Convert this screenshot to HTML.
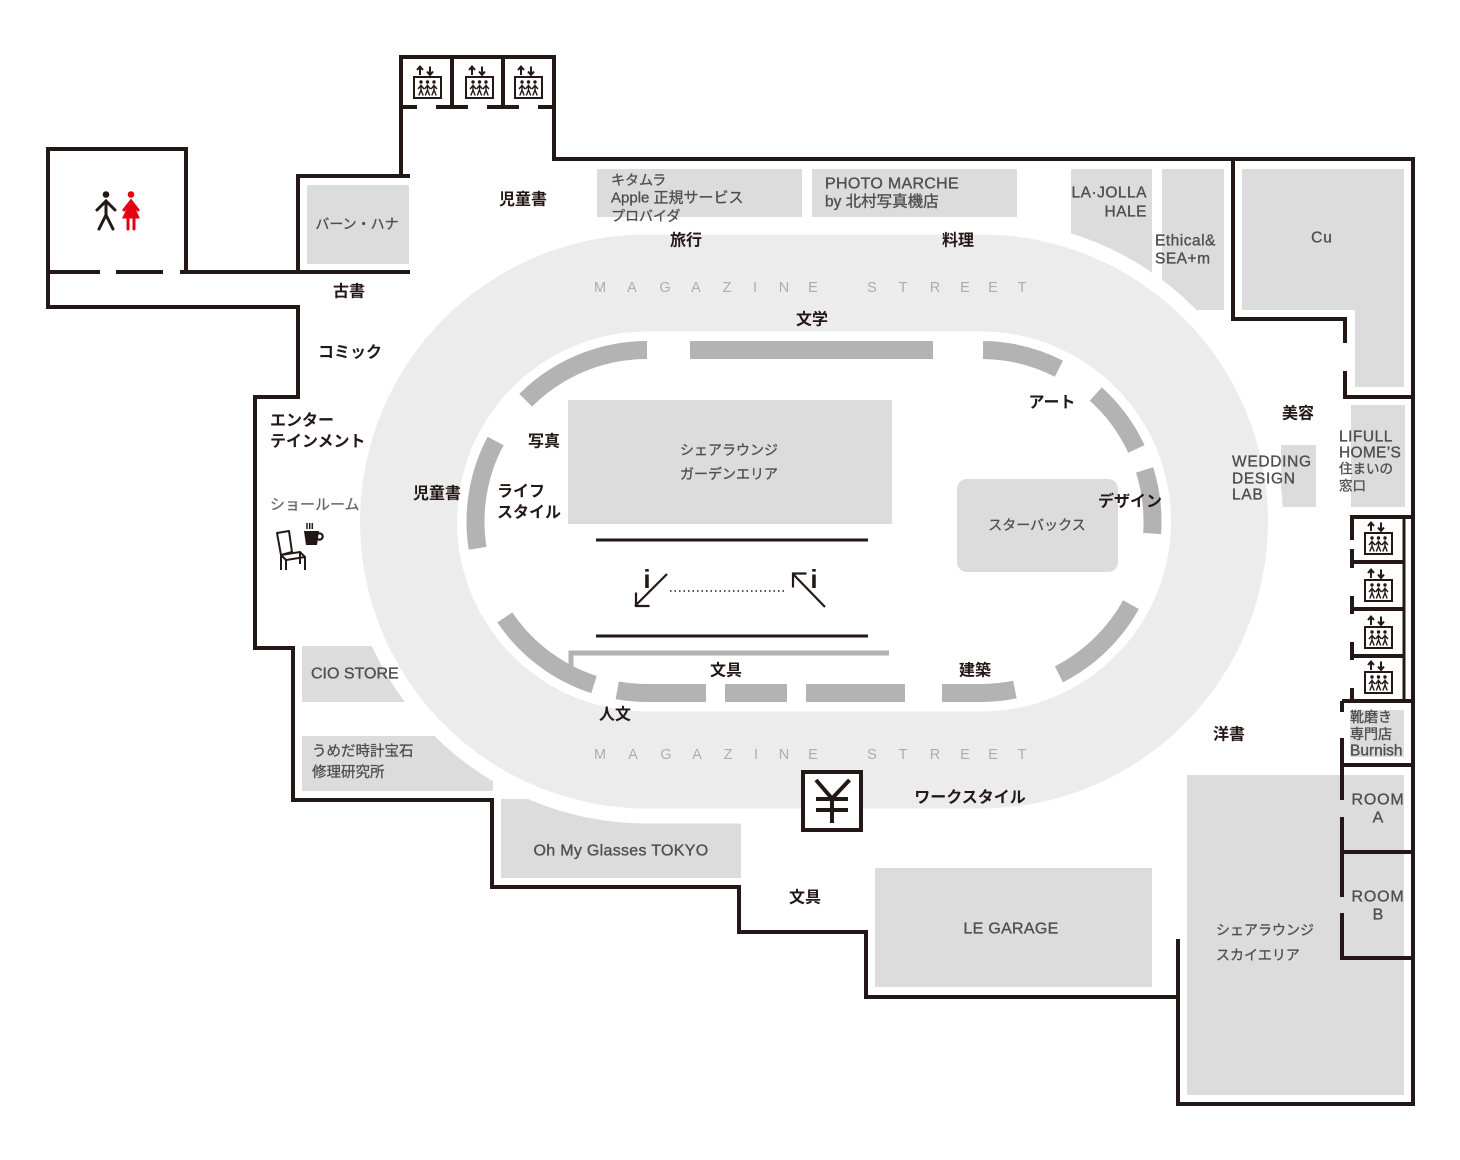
<!DOCTYPE html>
<html><head><meta charset="utf-8">
<style>
html,body{margin:0;padding:0;background:#fff;}
svg{display:block;}
text{font-family:"Liberation Sans","Noto Sans CJK JP",sans-serif;}
.lb{font-size:16px;font-weight:bold;fill:#231815;}
.st{font-size:14px;fill:#4f4f4f;stroke:#4f4f4f;stroke-width:0.3;}
.se{font-size:15.5px;fill:#4f4f4f;stroke:#4f4f4f;stroke-width:0.35;}
.ms{font-size:14.5px;fill:#adadad;}
</style></head><body>
<svg width="1460" height="1160" viewBox="0 0 1460 1160" xmlns="http://www.w3.org/2000/svg">
<defs>
<g id="ev">
 <rect x="0" y="0" width="27" height="21" fill="#fff" stroke="#231815" stroke-width="2"/>
 <g stroke="#231815" stroke-width="1.4" fill="none">
  <path d="M7 7.5V13M4 12L7 8.5L10 12M7 13L4.8 18.5M7 13L9.2 18.5"/>
  <path d="M13.5 7.5V13M10.5 12L13.5 8.5L16.5 12M13.5 13L11.3 18.5M13.5 13L15.7 18.5"/>
  <path d="M20 7.5V13M17 12L20 8.5L23 12M20 13L17.8 18.5M20 13L22.2 18.5"/>
 </g>
 <g fill="#231815"><circle cx="7" cy="5" r="1.7"/><circle cx="13.5" cy="5" r="1.7"/><circle cx="20" cy="5" r="1.7"/></g>
 <g stroke="#231815" stroke-width="2" fill="none">
  <path d="M6 -2V-10M3 -7L6 -10.5L9 -7"/>
  <path d="M16 -10.5V-2.5M13 -5.5L16 -2L19 -5.5"/>
 </g>
</g>
</defs>

<!-- stores (drawn before oval so oval cuts them) -->
<g fill="#dcdcdc">
 <rect x="307" y="185" width="102" height="79"/>
 <rect x="597" y="169" width="205" height="48"/>
 <rect x="812" y="169" width="205" height="48"/>
 <rect x="1071" y="169" width="81" height="140"/>
 <rect x="1162" y="169" width="62" height="141"/>
 <polygon points="1242,169 1404,169 1404,387 1355,387 1355,310 1242,310"/>
 <rect x="1281" y="445" width="35" height="62"/>
 <rect x="1351" y="405" width="54" height="102"/>
 <rect x="302" y="646" width="104" height="56"/>
 <rect x="302" y="736" width="191" height="55"/>
 <rect x="501" y="799" width="240" height="79"/>
 <rect x="875" y="868" width="277" height="119"/>
 <rect x="1187" y="775" width="217" height="320"/>
 <rect x="1350" y="710" width="54" height="47"/>
</g>

<!-- oval -->
<path d="M647 219.5H981A302 302 0 0 1 981 823.5H647A302 302 0 0 1 647 219.5Z" fill="#fff"/>
<path d="M647 234.5H981A287 287 0 0 1 981 808.5H647A287 287 0 0 1 647 234.5Z" fill="#ececec"/>
<path d="M647 331.5H981A190 190 0 0 1 981 711.5H647A190 190 0 0 1 647 331.5Z" fill="#fff"/>

<!-- track segments -->
<g stroke="#b3b3b3" stroke-width="18" fill="none">
 <path d="M525.7 400.2A171.5 171.5 0 0 1 647 350"/>
 <path d="M690 350H933"/>
 <path d="M477.6 548.3A171.5 171.5 0 0 1 495.6 441"/>
 <path d="M594 684.6A171.5 171.5 0 0 1 504.8 617.4"/>
 <path d="M706 693H647A171.5 171.5 0 0 1 617.2 690.4"/>
 <path d="M725 693H787"/>
 <path d="M806 693H905"/>
 <path d="M942 693H981A171.5 171.5 0 0 0 1014.9 689.6"/>
 <path d="M1058.9 674.3A171.5 171.5 0 0 0 1131 604.6"/>
 <path d="M1152.1 533.5A171.5 171.5 0 0 0 1144.6 469.9"/>
 <path d="M1136.4 449A171.5 171.5 0 0 0 1095.8 394"/>
 <path d="M1058.9 368.7A171.5 171.5 0 0 0 983 350"/>
</g>
<polyline points="889,653 571,653 571,666" fill="none" stroke="#b3b3b3" stroke-width="5"/>

<!-- inner content -->
<rect x="568" y="400" width="324" height="124" fill="#dcdcdc"/>
<rect x="957" y="479" width="161" height="93" rx="10" fill="#dcdcdc"/>
<g stroke="#231815" stroke-width="3">
 <line x1="596" y1="540" x2="868" y2="540"/>
 <line x1="596" y1="636" x2="868" y2="636"/>
</g>
<g stroke="#231815" stroke-width="2.2" fill="none">
 <path d="M667 574L635 606"/>
 <path d="M636 592.5V606H649.5"/>
 <path d="M825 607L793 574"/>
 <path d="M793 587.5V573.5H806.5"/>
</g>
<line x1="670" y1="591" x2="786" y2="591" stroke="#231815" stroke-width="1.5" stroke-dasharray="1.5 3"/>
<text x="647" y="588" font-size="26" font-weight="bold" text-anchor="middle" fill="#231815">i</text>
<text x="814" y="588" font-size="26" font-weight="bold" text-anchor="middle" fill="#231815">i</text>

<!-- walls -->
<g stroke="#231815" stroke-width="4" fill="none" stroke-linejoin="miter">
 <path d="M186 272V149H48V307H298V397H255V648H293V800H492V887H739V932H866V997H1178"/>
 <path d="M48 272H100M116 272H163M180 272H410"/>
 <path d="M298 272V176H410"/>
 <path d="M401 176V57H554V159H1413V1104H1178V939"/>
 <path d="M452 57V107M503 57V107"/>
 <path d="M401 107H417M436 107H468M487 107H519M538 107H554"/>
 <path d="M1233 159V319H1345V343M1345 371V397H1413"/>
 <path d="M1352 517H1413M1352 562H1404M1352 609H1404M1352 656H1404M1342 701H1413"/>
 <path d="M1352 515V540M1352 549V568M1352 596V614M1352 642V660M1352 688V701"/>
 <path d="M1342 701V712M1342 738V800M1342 817V897M1342 913V960"/>
 <path d="M1342 765H1413M1342 852H1413M1342 958H1413"/>
</g>
<line x1="1404" y1="517" x2="1404" y2="701" stroke="#231815" stroke-width="3"/>

<!-- elevators -->
<use href="#ev" x="414" y="77"/>
<use href="#ev" x="466" y="77"/>
<use href="#ev" x="515" y="77"/>
<use href="#ev" x="1365" y="533"/>
<use href="#ev" x="1365" y="580"/>
<use href="#ev" x="1365" y="627"/>
<use href="#ev" x="1365" y="672"/>

<!-- yen -->
<rect x="803" y="772" width="58" height="58" fill="#fff" stroke="#231815" stroke-width="4"/>
<g stroke="#231815" stroke-width="4" fill="none">
 <path d="M816 780L832 798.5L849.5 780"/>
 <path d="M832 798.5V823"/>
 <path d="M816 799H848M816 810H848"/>
</g>

<!-- toilet icons -->
<g stroke="#231815" stroke-width="3" fill="none" stroke-linecap="round">
 <path d="M97 210L106 201L115 210M106 201V215M106 215L99 229M106 215L113 229"/>
</g>
<circle cx="106" cy="194.5" r="3.3" fill="#231815"/>
<circle cx="131" cy="194.5" r="3.3" fill="#e60012"/>
<polygon points="131,199.5 122,218.5 140,218.5" fill="#e60012"/>
<g stroke="#e60012" stroke-width="3" fill="none" stroke-linecap="round">
 <path d="M124 210L131 201L138 210"/>
 <path d="M128 218V229M134 218V229"/>
</g>

<!-- chair and coffee -->
<g stroke="#231815" stroke-width="2" fill="none" stroke-linejoin="round">
 <path d="M277 533L289 531L292 552L281 555Z"/>
 <path d="M281 555L300 552L305 557L286 560Z"/>
 <path d="M281 555V570M286 560V570M305 557V570M300 552V564"/>
</g>
<g stroke="#231815" stroke-width="1.5"><path d="M307 523V529M309.7 523V529M312.3 523V529"/></g>
<path d="M304 531H319L317 545H306Z" fill="#231815"/>
<circle cx="319.5" cy="536.5" r="3.2" fill="none" stroke="#231815" stroke-width="2.2"/>

<!-- MAGAZINE STREET -->
<text class="ms" y="288" dominant-baseline="central" text-anchor="middle"><tspan x="600">M</tspan><tspan x="632">A</tspan><tspan x="665">G</tspan><tspan x="696">A</tspan><tspan x="727">Z</tspan><tspan x="755">I</tspan><tspan x="784">N</tspan><tspan x="813">E</tspan><tspan x="872">S</tspan><tspan x="903">T</tspan><tspan x="935">R</tspan><tspan x="965">E</tspan><tspan x="993">E</tspan><tspan x="1022">T</tspan></text>
<text class="ms" y="755" dominant-baseline="central" text-anchor="middle"><tspan x="600">M</tspan><tspan x="633">A</tspan><tspan x="666">G</tspan><tspan x="697">A</tspan><tspan x="728">Z</tspan><tspan x="756">I</tspan><tspan x="784">N</tspan><tspan x="813">E</tspan><tspan x="872">S</tspan><tspan x="903">T</tspan><tspan x="935">R</tspan><tspan x="965">E</tspan><tspan x="993">E</tspan><tspan x="1022">T</tspan></text>

<!-- section labels -->
<g class="lb" dominant-baseline="central" text-anchor="middle">
 <text x="523" y="200">児童書</text>
 <text x="349" y="292">古書</text>
 <text x="350" y="353">コミック</text>
 <text x="686" y="241">旅行</text>
 <text x="958" y="241">料理</text>
 <text x="812" y="320">文学</text>
 <text x="544" y="442">写真</text>
 <text x="437" y="494">児童書</text>
 <text x="1052" y="403">アート</text>
 <text x="1130" y="502">デザイン</text>
 <text x="726" y="671">文具</text>
 <text x="975" y="671">建築</text>
 <text x="615" y="715">人文</text>
 <text x="1229" y="735">洋書</text>
 <text x="970" y="798">ワークスタイル</text>
 <text x="805" y="898">文具</text>
 <text x="1298" y="414">美容</text>
</g>
<g class="lb" dominant-baseline="central">
 <text x="270" y="421">エンター</text>
 <text x="270" y="442">テインメント</text>
 <text x="497" y="492">ライフ</text>
 <text x="497" y="513">スタイル</text>
</g>
<text x="270" y="505" dominant-baseline="central" font-size="15" fill="#666" stroke="#666" stroke-width="0.25">ショールーム</text>

<!-- store labels -->
<g class="st" dominant-baseline="central">
 <text x="357" y="224" text-anchor="middle">バーン・ハナ</text>
 <text x="611" y="180">キタムラ</text>
 <text x="611" y="198" font-size="15">Apple 正規サービス</text>
 <text x="611" y="216">プロバイダ</text>
 <text x="729" y="450" text-anchor="middle">シェアラウンジ</text>
 <text x="729" y="474" text-anchor="middle">ガーデンエリア</text>
 <text x="1037" y="525" text-anchor="middle">スターバックス</text>
 <text x="312" y="752" font-size="14.5">うめだ時計宝石</text>
 <text x="312" y="773" font-size="14.5">修理研究所</text>
 <text x="1216" y="930">シェアラウンジ</text>
 <text x="1216" y="955">スカイエリア</text>
</g>
<g class="se" dominant-baseline="central">
 <text x="825" y="184" font-size="16" letter-spacing="0.3">PHOTO MARCHE</text>
 <text x="825" y="202">by 北村写真機店</text>
 <text x="1147" y="193" text-anchor="end" letter-spacing="0.5">LA·JOLLA</text>
 <text x="1147" y="212" text-anchor="end" letter-spacing="0.5">HALE</text>
 <text x="1155" y="241" letter-spacing="0.5">Ethical&amp;</text>
 <text x="1155" y="259" letter-spacing="0.5">SEA+m</text>
 <text x="1322" y="238" text-anchor="middle" letter-spacing="1">Cu</text>
 <text x="1232" y="462" letter-spacing="0.7">WEDDING</text>
 <text x="1232" y="479" letter-spacing="0.7">DESIGN</text>
 <text x="1232" y="495" letter-spacing="0.7">LAB</text>
 <text x="1339" y="437" letter-spacing="0.5">LIFULL</text>
 <text x="1339" y="453" letter-spacing="0.3">HOME’S</text>
 <text x="1339" y="469" font-size="13.5">住まいの</text>
 <text x="1339" y="486" font-size="13.5">窓口</text>
 <text x="1350" y="717" font-size="14">靴磨き</text>
 <text x="1350" y="734" font-size="14">専門店</text>
 <text x="1350" y="751">Burnish</text>
 <text x="1378" y="800" text-anchor="middle" font-size="16" letter-spacing="0.8">ROOM</text>
 <text x="1378" y="818" text-anchor="middle" font-size="16">A</text>
 <text x="1378" y="897" text-anchor="middle" font-size="16" letter-spacing="0.8">ROOM</text>
 <text x="1378" y="915" text-anchor="middle" font-size="16">B</text>
 <text x="311" y="674" font-size="16">CIO STORE</text>
 <text x="621" y="851" font-size="16" text-anchor="middle" letter-spacing="0.3">Oh My Glasses TOKYO</text>
 <text x="1011" y="929" font-size="16" text-anchor="middle" letter-spacing="0.3">LE GARAGE</text>
</g>
</svg>
</body></html>
